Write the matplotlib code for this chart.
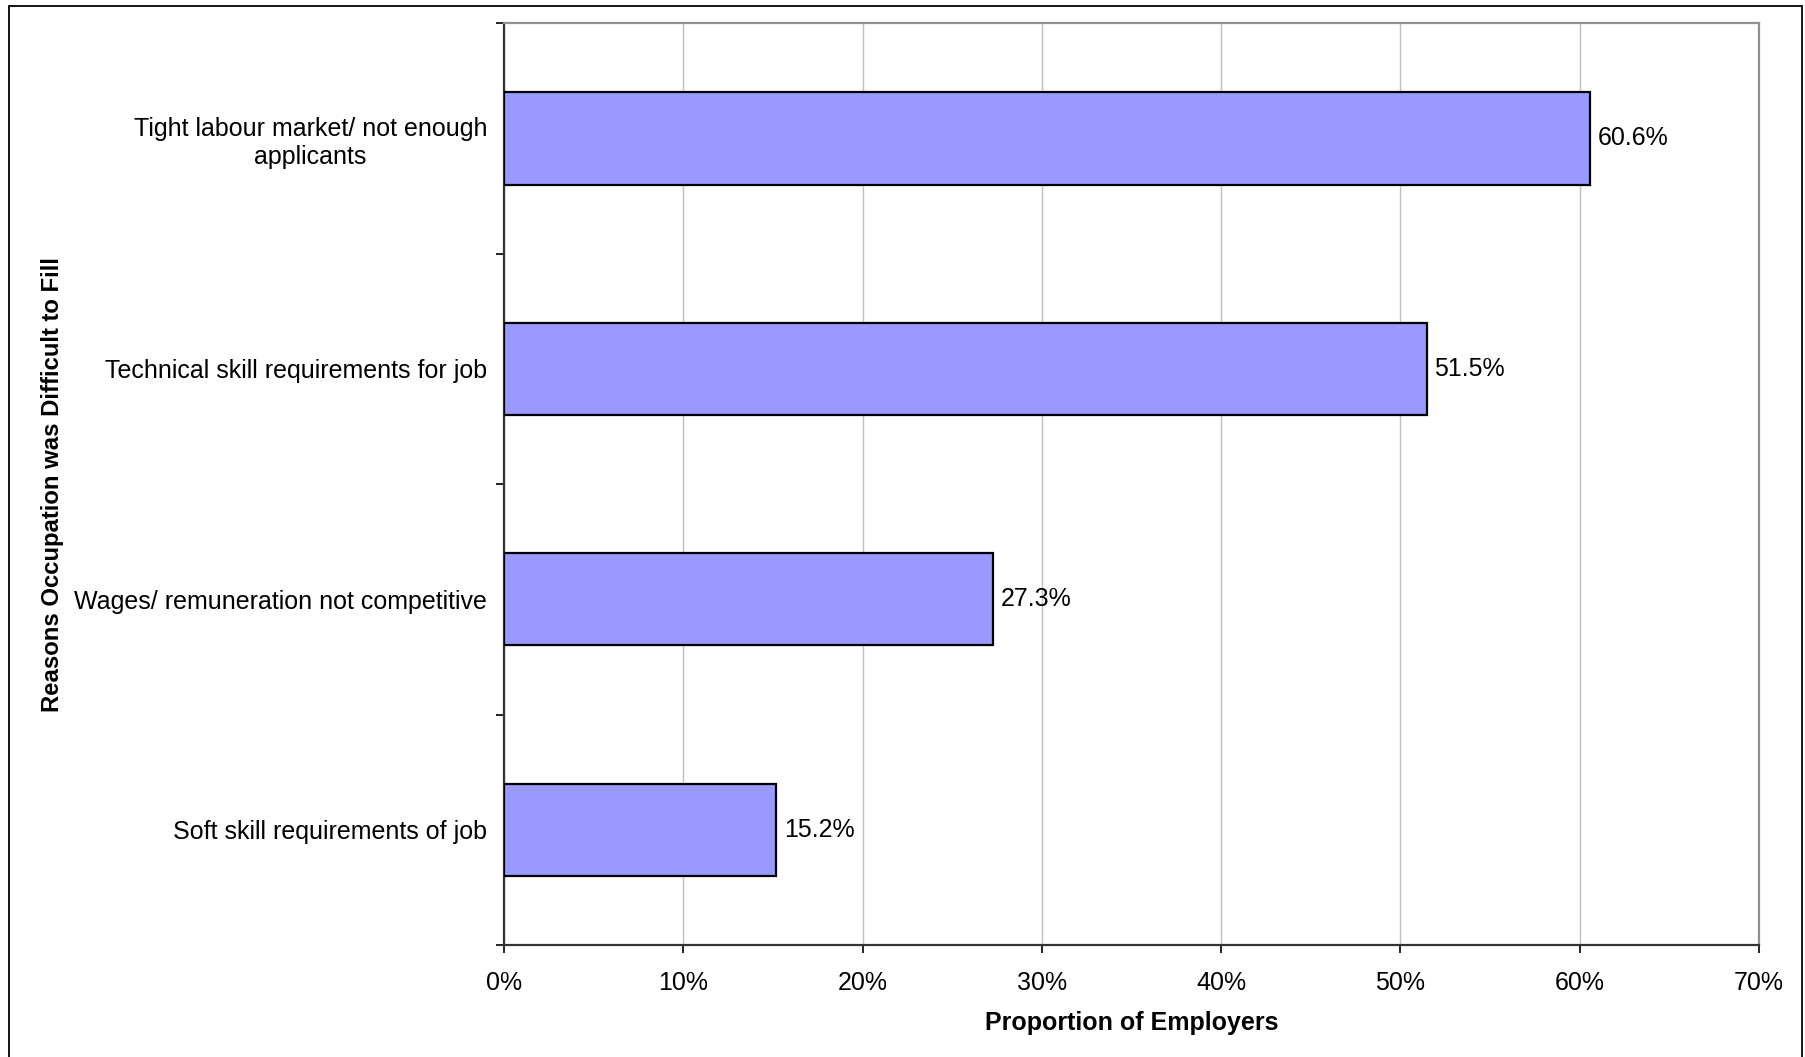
import matplotlib.pyplot as plt
from matplotlib.patches import Rectangle
from matplotlib.ticker import FixedLocator, FuncFormatter

plt.rcParams['font.family'] = ['Liberation Sans', 'DejaVu Sans']

categories = ['Tight labour market/ not enough\napplicants',
              'Technical skill requirements for job',
              'Wages/ remuneration not competitive',
              'Soft skill requirements of job']
values = [60.6, 51.5, 27.3, 15.2]
xticks = [0, 10, 20, 30, 40, 50, 60, 70]

fig = plt.figure(figsize=(18.05, 10.57), dpi=100)
ax = fig.add_axes([0.2792, 0.1060, 0.6953, 0.8720])

# outer chart border
fig.patches.append(Rectangle((0.0050, -0.02), 0.9932, 1.0146, transform=fig.transFigure,
                             fill=False, edgecolor='black', linewidth=1.3))

pos = list(range(len(categories)))[::-1]
ax.barh(pos, values, height=0.4, color='#9999FF', edgecolor='black', linewidth=1.6, zorder=3)
for p, v in zip(pos, values):
    ax.text(v + 0.4, p, f'{v:.1f}%', va='center', ha='left', fontsize=18)

ax.set_xlim(0, 70)
ax.set_ylim(-0.5, len(categories) - 0.5)
ax.set_xticks(xticks)
ax.xaxis.set_major_formatter(FuncFormatter(lambda x, _: f'{x:.0f}%'))
ax.grid(axis='x', color='#c0c0c0', linewidth=1, zorder=0)

ax.set_yticks(pos)
ax.set_yticklabels(categories, multialignment='center')
ax.yaxis.set_minor_locator(FixedLocator([-0.5, 0.5, 1.5, 2.5, 3.5]))
ax.tick_params(axis='y', which='major', length=0, pad=12, labelsize=18)
ax.tick_params(axis='y', which='minor', length=6, width=1.2, direction='out')
ax.tick_params(axis='x', which='major', length=5.5, width=1.2, direction='out', pad=13, labelsize=18)

for s in ['left', 'bottom']:
    ax.spines[s].set_color('#333333')
    ax.spines[s].set_linewidth(1.6)
for s in ['top', 'right']:
    ax.spines[s].set_color('#909090')
    ax.spines[s].set_linewidth(1.6)

ax.set_xlabel('Proportion of Employers', fontsize=18, fontweight='bold', labelpad=12)
fig.text(53 / 1805, 0.106 + 0.872 / 2, 'Reasons Occupation was Difficult to Fill', rotation=90,
         ha='center', va='center', fontsize=17.2, fontweight='bold')

fig.savefig('out.png', dpi=100)
